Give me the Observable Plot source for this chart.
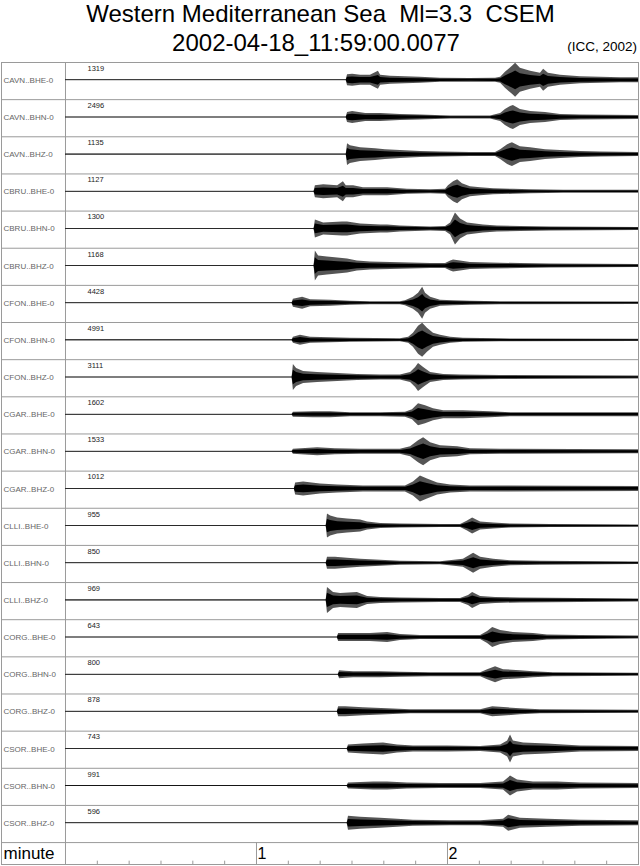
<!DOCTYPE html>
<html>
<head>
<meta charset="utf-8">
<script src="https://cdn.jsdelivr.net/npm/d3@7"></script>
<script src="https://cdn.jsdelivr.net/npm/@observablehq/plot@0.6"></script>
<style>
  body { margin: 0; background: #fff; font-family: "Liberation Sans", Arial, Helvetica, sans-serif; }
  #head { position: relative; width: 640px; height: 60px; color: #000; }
  #head div { position: absolute; white-space: pre; }
  #t1 { top: 0px; left: 0; width: 641px; text-align: center; font-size: 24px; line-height: normal; }
  #t2 { top: 30.5px; left: 0; width: 632px; text-align: center; font-size: 24px; line-height: 24px; }
  #t3 { top: 39.5px; right: 3px; font-size: 13.5px; line-height: 13.5px; }
  #chart svg { display: block; }
</style>
</head>
<body>
<div id="head">
  <div id="t1">Western Mediterranean Sea  Ml=3.3  CSEM</div>
  <div id="t2">2002-04-18_11:59:00.0077</div>
  <div id="t3">(ICC, 2002)</div>
</div>
<div id="chart"></div>
<script>
// ---- data ----
const stations = [
  "CAVN..BHE-0","CAVN..BHN-0","CAVN..BHZ-0",
  "CBRU..BHE-0","CBRU..BHN-0","CBRU..BHZ-0",
  "CFON..BHE-0","CFON..BHN-0","CFON..BHZ-0",
  "CGAR..BHE-0","CGAR..BHN-0","CGAR..BHZ-0",
  "CLLI..BHE-0","CLLI..BHN-0","CLLI..BHZ-0",
  "CORG..BHE-0","CORG..BHN-0","CORG..BHZ-0",
  "CSOR..BHE-0","CSOR..BHN-0","CSOR..BHZ-0"
];
const peakCounts = [1319,2496,1135,1127,1300,1168,4428,4991,3111,1602,1533,1012,955,850,969,643,800,878,743,991,596];

// envelope of each trace: [seconds, half-amplitude]
const envCAVN_BHE = [[0,.5],[88.2,.5],[88.6,5.5],[90.2,6],[92.7,5],[95.8,5],[98.3,9],[99.0,5],[102.1,4],[106.8,3.5],[111.5,3],[117.8,2],[127,1.8],[135.1,2],[136.7,3],[138.2,8],[140.4,14],[141.4,17],[142.9,12],[146.1,9],[149.2,7],[150.2,11],[151.7,7],[155.5,5],[161.8,3.5],[168.1,3],[174.4,2.5],[180,2.5]];
const envCAVN_BHN = [[0,.5],[88.2,.5],[88.6,5],[90.2,6],[94.3,4],[99,4],[105.2,3],[111.5,2.5],[121,1.5],[133.5,1.5],[136.7,4],[138.2,8],[139.8,11],[140.7,12],[142.9,8],[146.1,6],[150.8,5],[155.5,3],[161.8,2.5],[180,2]];
const envCAVN_BHZ = [[0,.5],[88.2,.5],[88.6,11],[89.5,9],[92.7,7],[97.4,6],[100.5,5],[105.2,4],[111.5,3],[117.8,2.5],[127.2,2],[135.1,2],[136.7,5],[138.9,10],[140.4,12],[142.9,8],[146.1,7],[150.8,5],[155.5,4],[161.8,3],[168.1,2.5],[180,2]];
const envCBRU_BHE = [[0,.5],[78.1,.5],[78.5,6],[81.1,7],[85.5,6],[87.3,10],[88.2,6],[90.5,6],[93.6,4],[101.2,4],[107.4,2.5],[114.7,2],[119.4,2.5],[120.3,6],[121.9,10],[123.2,12],[124.7,8],[127.2,5],[130.4,4],[134.5,3],[140.7,2.5],[146.1,2],[156.5,1.5],[180,1.5]];
const envCBRU_BHN = [[0,.5],[78.1,.5],[78.5,9],[81.1,6],[87,7],[88.6,7],[92.7,5],[99,4],[101.2,4],[105.2,3],[114.7,2],[119.4,2.5],[121,6],[122.5,16],[124.1,10],[126.3,6],[128.8,5],[131.3,4],[135.7,3],[142.9,2.5],[152.4,2],[180,1.5]];
const envCBRU_BHZ = [[0,.5],[78.1,.5],[78.5,15],[79.5,10],[82.3,9],[85.5,8],[88.6,7],[91.7,5],[95.8,4],[102.1,3.5],[108.4,3],[114.7,2.5],[119.4,2.5],[121,5],[121.9,6],[124.1,5],[127.2,3.5],[133.5,3],[142.9,2.5],[152.4,2],[180,1.5]];
const envCFON_BHE = [[0,.5],[71.2,.5],[71.6,4],[74.5,6],[77,3.5],[83.3,3],[89.5,2],[95.8,1.5],[105.2,1.5],[106.8,2.5],[109.3,6],[110.9,10],[112.2,16],[113.1,10],[114.7,6],[117.8,3],[121.9,2.5],[127.2,2],[136.7,1.5],[180,1.2]];
const envCFON_BHN = [[0,.5],[71.2,.5],[71.6,3],[73.8,5],[77,3],[83.3,2.5],[89.5,2],[105.2,1.5],[107.8,3],[109.3,7],[110.9,14],[112.2,17],[113.7,12],[115.6,7],[117.8,5],[121,3],[125,2],[136.7,1.5],[180,1.2]];
const envCFON_BHZ = [[0,.5],[71.2,.5],[71.6,13],[72.6,9],[74.8,6],[79.2,5],[85.5,4],[91.7,3],[99,2.5],[105.2,2.5],[108.4,5],[110,10],[110.9,14],[112.5,10],[114.7,5],[118.8,3],[124.1,2.5],[136.7,2],[180,1.5]];
const envCGAR_BHE = [[0,.5],[71.2,.5],[71.6,2.5],[77.9,3],[83.3,3],[89.5,2],[99,2],[106.8,2.5],[109,5],[110.9,11],[113.1,9],[115.6,6],[118.8,4],[125,4],[133.5,3],[139.8,2],[152.4,2],[180,2]];
const envCGAR_BHN = [[0,.5],[71.2,.5],[71.6,2.5],[79.2,4],[84.8,3],[92.7,2.5],[105.2,2.5],[108.4,5],[110.9,11],[112.5,14],[114.7,9],[117.8,6],[123.2,5],[127.2,3],[136.7,2.5],[180,2]];
const envCGAR_BHZ = [[0,.5],[71.9,.5],[72.3,6],[74.8,7],[80.1,5],[85.5,4],[93.6,3],[102.1,3],[106.8,3],[109.3,7],[111.5,13],[113.7,10],[116.9,6],[121,4],[127.2,3],[136.7,3],[180,2.5]];
const envCLLI_BHE = [[0,.5],[81.9,.5],[82.3,12],[83.3,10],[85.5,8],[88.6,7],[92.7,6],[94.9,4],[99,2.5],[105.2,2],[117.8,1.5],[124.1,1.5],[126.3,5],[127.9,8],[130.4,4],[134.5,3],[139.8,2],[152.4,1.5],[180,1.2]];
const envCLLI_BHN = [[0,.5],[81.9,.5],[82.3,6],[84.8,6],[88.6,5],[92.7,4],[99,3],[105.2,2],[117.8,1.5],[125,4],[128.2,10],[130.4,6],[134.5,4],[139.8,2.5],[149.2,2],[180,1.2]];
const envCLLI_BHZ = [[0,.5],[81.9,.5],[82.3,13],[84.2,8],[86.4,7],[91.7,8],[94.9,4],[99,3],[105.2,2.5],[117.8,2],[124.1,2],[126.6,5],[127.9,8],[130.4,4],[135.1,3],[142.9,2.5],[180,1.5]];
const envCORG_BHE = [[0,.5],[85.4,.5],[85.8,4],[88.9,4],[95.8,4],[101.2,5],[105.2,3],[111.5,2],[121,2],[130.4,2],[132.6,6],[134.2,10],[136.7,7],[140.7,5],[147,4],[151.4,2.5],[161.8,2],[180,1.5]];
const envCORG_BHN = [[0,.5],[85.7,.5],[86.1,4],[88,3.5],[90.5,3],[99,3],[105.2,2.5],[114.7,2],[130.4,2],[132.6,5],[135.1,8],[137.6,5],[142.9,4],[147,3],[153.3,2],[180,1.5]];
const envCORG_BHZ = [[0,.5],[85.4,.5],[85.8,5],[88,5],[93.6,4],[101.2,3],[108.4,2],[117.8,2],[130.4,2],[132.9,4],[134.2,5],[138.9,4],[142.9,3],[149.2,2],[180,1.5]];
const envCSOR_BHE = [[0,.5],[88.5,.5],[88.9,4],[93.6,5],[99.9,6],[104.3,4],[109.3,3],[120,3],[130.4,2.5],[136.7,4],[138.9,8],[139.8,14],[140.7,8],[143.9,6],[151.4,5],[156.5,4],[161.8,3],[180,2.5]];
const envCSOR_BHN = [[0,.5],[88.5,.5],[88.9,3],[96.8,4],[101.2,4],[107.4,3],[117.8,2.5],[130.4,2.5],[137.6,4],[139.8,10],[142,6],[147,4],[154.6,4],[161.8,3],[180,2.5]];
const envCSOR_BHZ = [[0,.5],[88.5,.5],[88.9,7],[92.7,6],[99,5],[104.3,4],[109.3,3],[121,2.5],[130.4,2.5],[137.6,4],[139.2,8],[142.9,5],[151.4,4],[161.8,3],[180,2.5]];

const envelopes = [
  envCAVN_BHE, envCAVN_BHN, envCAVN_BHZ,
  envCBRU_BHE, envCBRU_BHN, envCBRU_BHZ,
  envCFON_BHE, envCFON_BHN, envCFON_BHZ,
  envCGAR_BHE, envCGAR_BHN, envCGAR_BHZ,
  envCLLI_BHE, envCLLI_BHN, envCLLI_BHZ,
  envCORG_BHE, envCORG_BHN, envCORG_BHZ,
  envCSOR_BHE, envCSOR_BHN, envCSOR_BHZ
];
const minuteTicks = [60, 120];
const secondTicks = d3.range(10, 180, 10);

// ---- layout constants ----
const nRows = stations.length;
const axisRow = 0.59;          // height of the "minute" strip, in rows
const baseOffset = 0.48;       // trace baseline inside its row
const gain = 1 / 37.15;        // envelope units -> rows
const coreShare = 0.55;        // dense dark core of the trace band
const labelCol = -20.1;        // left edge of the station-name column (seconds)
const gridColor = "#9a9a9a";

const table = envelopes.flatMap((env, i) =>
  env.map(([t, a]) => ({
    trace: i, t,
    lo: i + baseOffset - a * gain, hi: i + baseOffset + a * gain,
    clo: i + baseOffset - a * coreShare * gain, chi: i + baseOffset + a * coreShare * gain
  }))
);
const bottom = nRows + axisRow;

const chart = Plot.plot({
  width: 640,
  height: 806,
  marginTop: 2,
  marginBottom: 2,
  marginLeft: 1,
  marginRight: 2,
  x: {domain: [labelCol, 180], axis: null},
  y: {domain: [0, bottom], reverse: true, axis: null},
  style: {fontFamily: "'Liberation Sans', Arial, Helvetica, sans-serif", background: "#fff"},
  marks: [
    Plot.ruleY(d3.range(1, nRows + 1), {stroke: gridColor, strokeWidth: 1}),
    Plot.ruleX([0], {stroke: gridColor, strokeWidth: 1}),
    Plot.ruleX(minuteTicks, {y1: nRows, y2: bottom, stroke: gridColor, strokeWidth: 1}),
    Plot.ruleX(secondTicks.filter(d => !minuteTicks.includes(d)), {y1: bottom, y2: bottom - 0.09, stroke: gridColor, strokeWidth: 1}),
    Plot.frame({stroke: gridColor, strokeWidth: 1}),
    Plot.areaY(table, {x: "t", y1: "lo", y2: "hi", z: "trace", fill: "#555", curve: "linear"}),
    Plot.areaY(table, {x: "t", y1: "clo", y2: "chi", z: "trace", fill: "#000", curve: "linear"}),
    Plot.text(stations, {x: labelCol, y: (d, i) => i + baseOffset, text: d => d, textAnchor: "start", dx: 2, fontSize: 8, fill: "#666"}),
    Plot.text(peakCounts, {x: 0, y: (d, i) => i + 0.16, text: d => String(d), textAnchor: "start", dx: 22, fontSize: 7.5, fill: "#222"}),
    Plot.text(["minute"], {x: labelCol, y: nRows + axisRow / 2, text: d => d, textAnchor: "start", dx: 2, fontSize: 17, fill: "#000"}),
    Plot.text(minuteTicks, {x: d => d, y: nRows + axisRow / 2, text: d => String(d / 60), textAnchor: "start", dx: 1, fontSize: 16, fill: "#000"})
  ]
});
document.getElementById("chart").appendChild(chart);
</script>
</body>
</html>
